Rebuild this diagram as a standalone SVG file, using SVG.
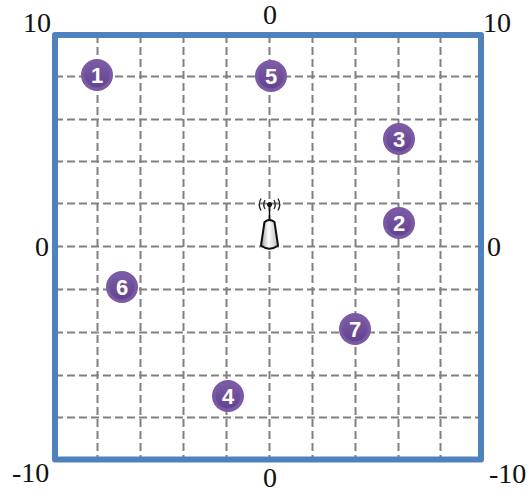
<svg xmlns="http://www.w3.org/2000/svg" width="530" height="498" viewBox="0 0 530 498">
<defs>
<linearGradient id="tower" x1="0" x2="1" y1="0" y2="0"><stop offset="0" stop-color="#a0a0a0"/><stop offset="0.45" stop-color="#ffffff"/><stop offset="1" stop-color="#b8b8b8"/></linearGradient>
<linearGradient id="inner" x1="0" x2="0" y1="0" y2="1"><stop offset="0" stop-color="#7a5aa4"/><stop offset="1" stop-color="#63438e"/></linearGradient>
</defs>
<style>
.grid{stroke:#808080;stroke-width:2;stroke-dasharray:8 4;fill:none}
.frame{stroke:#4f81bd;stroke-width:6;fill:none;stroke-linejoin:round}
.ax{font-family:"Liberation Serif",serif;font-size:28px;fill:#111}
.b{fill:#7b5aa5}
.i{fill:url(#inner)}
.n{font-family:"Liberation Sans",sans-serif;font-size:22px;font-weight:700;fill:#fff;text-anchor:middle}
</style>
<rect width="530" height="498" fill="#fff"/>
<g id="connectors">
<path class="grid" d="M97.500 35V459M140.500 35V459M183.500 35V459M226.500 35V459M269.500 35V459M312.500 35V459M355.500 35V459M398.500 35V459M440.500 35V459"/>
<path class="grid" d="M55 76.500H481M55 119.500H481M55 161.500H481M55 203.500H481M55 246.500H481M55 289.500H481M55 332.500H481M55 375.500H481M55 417.500H481"/>
</g>
<g id="frame"><rect class="frame" x="55" y="35" width="426" height="424.500"/></g>
<g id="labels">
<text class="ax" x="23" y="32">10</text>
<text class="ax" x="263" y="24">0</text>
<text class="ax" x="483" y="32">10</text>
<text class="ax" x="35" y="256">0</text>
<text class="ax" x="487" y="256">0</text>
<text class="ax" x="12" y="482">-10</text>
<text class="ax" x="263" y="487">0</text>
<text class="ax" x="489" y="483">-10</text>
</g>
<g id="tower">
<path d="M269.500 205V221" stroke="#111" stroke-width="1.500" fill="none"/>
<circle cx="269.500" cy="204.500" r="2.500" fill="#111"/>
<path d="M265 200Q262.500 204.500 265 209M274 200Q276.500 204.500 274 209M261 198.500Q257.500 204.500 261 210.500M278 198.500Q281.500 204.500 278 210.500" stroke="#222" stroke-width="1.300" fill="none"/>
<path d="M264.500 222Q269.500 218 274.500 222L278 245.500Q269.500 252 261 245.500Z" fill="url(#tower)" stroke="#111" stroke-width="2" stroke-linejoin="round"/>
</g>
<g id="node1"><circle class="b" cx="97" cy="75" r="16"/><circle class="i" cx="97" cy="75" r="12.500"/><text class="n" x="97" y="83">1</text></g>
<g id="node5"><circle class="b" cx="271" cy="76" r="16"/><circle class="i" cx="271" cy="76" r="12.500"/><text class="n" x="271" y="84">5</text></g>
<g id="node3"><circle class="b" cx="399" cy="139" r="16"/><circle class="i" cx="399" cy="139" r="12.500"/><text class="n" x="399" y="147">3</text></g>
<g id="node2"><circle class="b" cx="399" cy="223" r="16"/><circle class="i" cx="399" cy="223" r="12.500"/><text class="n" x="399" y="231">2</text></g>
<g id="node6"><circle class="b" cx="122" cy="287" r="16"/><circle class="i" cx="122" cy="287" r="12.500"/><text class="n" x="122" y="295">6</text></g>
<g id="node7"><circle class="b" cx="355" cy="329" r="16"/><circle class="i" cx="355" cy="329" r="12.500"/><text class="n" x="355" y="337">7</text></g>
<g id="node4"><circle class="b" cx="228" cy="396" r="16"/><circle class="i" cx="228" cy="396" r="12.500"/><text class="n" x="228" y="404">4</text></g>
</svg>
